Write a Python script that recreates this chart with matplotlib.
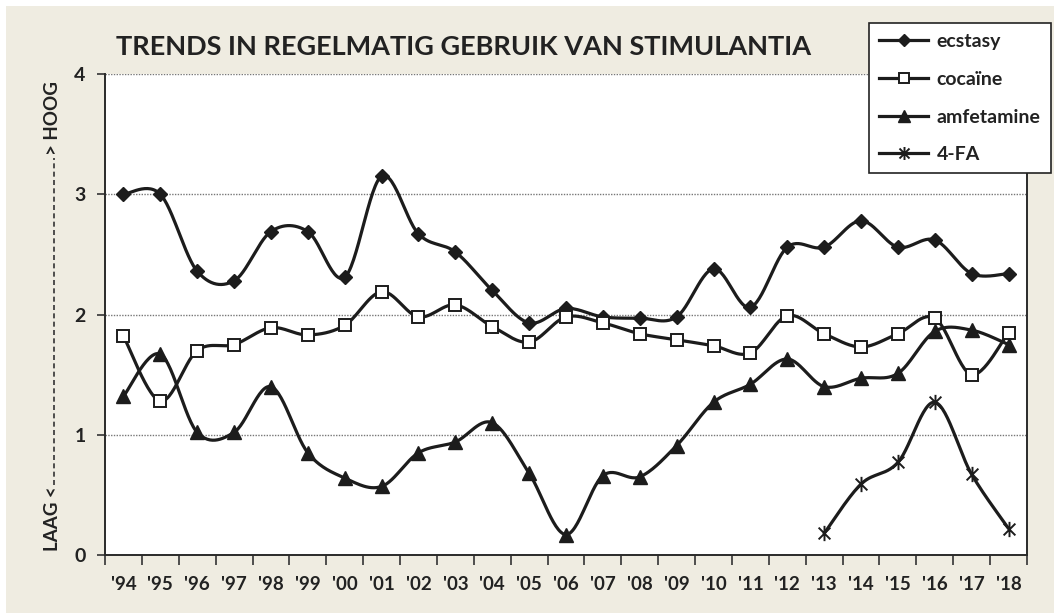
import numpy as np
import matplotlib.pyplot as plt
from matplotlib.path import Path
from matplotlib.lines import Line2D
from matplotlib.patches import Rectangle

plt.rcParams['font.family'] = ['Lato', 'DejaVu Sans']
plt.rcParams['font.weight'] = 'bold'

years = ["'94", "'95", "'96", "'97", "'98", "'99", "'00", "'01", "'02", "'03",
         "'04", "'05", "'06", "'07", "'08", "'09", "'10", "'11", "'12", "'13",
         "'14", "'15", "'16", "'17", "'18"]

ecstasy = [3.00, 3.00, 2.36, 2.28, 2.69, 2.69, 2.31, 3.15, 2.67, 2.52,
           2.20, 1.93, 2.05, 1.98, 1.97, 1.98, 2.38, 2.06, 2.56, 2.56,
           2.78, 2.56, 2.62, 2.34, 2.34]
cocaine = [1.82, 1.28, 1.70, 1.75, 1.89, 1.83, 1.91, 2.19, 1.98, 2.08,
           1.90, 1.77, 1.98, 1.93, 1.84, 1.79, 1.74, 1.68, 1.99, 1.84,
           1.73, 1.84, 1.97, 1.50, 1.85]
amfetamine = [1.32, 1.67, 1.02, 1.02, 1.40, 0.85, 0.64, 0.57, 0.85, 0.94,
              1.10, 0.68, 0.17, 0.66, 0.65, 0.91, 1.27, 1.42, 1.63, 1.40,
              1.47, 1.51, 1.86, 1.87, 1.75]
fa4_start = 19  # 4-FA gemeten vanaf '13
fa4 = [0.18, 0.59, 0.77, 1.27, 0.67, 0.22]


def smooth(x, y, n=30):
    # excel-achtige gladde lijn (catmull-rom / bezier)
    x = np.asarray(x, float)
    y = np.asarray(y, float)
    px = np.concatenate(([x[0]], x, [x[-1]]))
    py = np.concatenate(([y[0]], y, [y[-1]]))
    t = np.linspace(0, 1, n)
    xs, ys = [], []
    for i in range(1, len(px) - 2):
        p0 = np.array([px[i], py[i]])
        p3 = np.array([px[i + 1], py[i + 1]])
        c1 = p0 + (p3 - np.array([px[i - 1], py[i - 1]])) / 6
        c2 = p3 - (np.array([px[i + 2], py[i + 2]]) - p0) / 6
        b = ((1 - t) ** 3)[:, None] * p0 + (3 * (1 - t) ** 2 * t)[:, None] * c1 \
            + (3 * (1 - t) * t ** 2)[:, None] * c2 + (t ** 3)[:, None] * p3
        xs.append(b[:, 0])
        ys.append(b[:, 1])
    return np.concatenate(xs), np.concatenate(ys)


star = Path([(-1, -1), (1, 1), (-1, 1), (1, -1), (0, -1.3), (0, 1.3)],
            [Path.MOVETO, Path.LINETO, Path.MOVETO, Path.LINETO, Path.MOVETO, Path.LINETO])

fig = plt.figure(figsize=(10.6, 6.14), dpi=100)
fig.patch.set_facecolor('white')
fig.patches.append(Rectangle((6 / 1060, 1 / 614), 1048 / 1060, 607 / 614,
                             transform=fig.transFigure, facecolor='#efece1',
                             edgecolor='none', zorder=-10))

ax = fig.add_axes([105 / 1060, 59 / 614, 922 / 1060, 481 / 614])
ax.set_facecolor('white')

lc = '#1c1c1c'
series = [
    ('ecstasy', np.arange(25), ecstasy, dict(marker='D', ms=7.5, mfc=lc, mec=lc)),
    ('cocaïne', np.arange(25), cocaine, dict(marker='s', ms=9, mfc='white', mec=lc, mew=1.4)),
    ('amfetamine', np.arange(25), amfetamine, dict(marker='^', ms=10, mfc=lc, mec=lc)),
    ('4-FA', np.arange(fa4_start, 25), fa4, dict(marker=star, ms=11, mfc='none', mec=lc, mew=1.4)),
]
handles = []
for name, x, y, mk in series:
    sx, sy = smooth(x, y)
    ax.plot(sx, sy, color=lc, lw=2.3, zorder=3, solid_capstyle='round')
    ax.plot(x, y, ls='none', zorder=4, **mk)
    hk = dict(mk)
    hk['ms'] = mk['ms'] * 0.85
    handles.append(Line2D([], [], color=lc, lw=2.3, label=name, **hk))

ax.set_xlim(-0.5, 24.5)
ax.set_ylim(0, 4)
ax.set_xticks(np.arange(25))
ax.set_xticklabels(years)
ax.set_xticks(np.arange(-0.5, 25, 1), minor=True)
ax.tick_params(axis='x', which='major', length=0, pad=15, labelsize=13.5, colors='#222222')
ax.tick_params(axis='x', which='minor', length=7, width=1.2, color='#333333', direction='out')
ax.set_yticks([0, 1, 2, 3, 4])
ax.tick_params(axis='y', length=6, width=1.2, color='#333333', pad=8, labelsize=14,
               colors='#222222')
for lab in ax.get_xticklabels() + ax.get_yticklabels():
    lab.set_fontweight('bold')
ax.yaxis.grid(True, ls=(0, (1, 1)), color='#777777', lw=1)
ax.set_axisbelow(True)
ax.spines['top'].set_visible(False)
for s in ['left', 'bottom', 'right']:
    ax.spines[s].set_color('#2a2a2a')
    ax.spines[s].set_linewidth(1.4)

fig.text(464 / 1060, 1 - 47 / 614, 'TRENDS IN REGELMATIG GEBRUIK VAN STIMULANTIA',
         ha='center', va='center', fontsize=19.5, fontweight='bold', color='#222222')

# y-as label: LAAG <-------> HOOG
yx = 53 / 1060
fig.text(yx, 1 - 551 / 614, 'LAAG <', rotation=90, ha='center', va='bottom',
         fontsize=13.5, fontweight='bold', color='#222222')
fig.text(yx, 1 - 81 / 614, '> HOOG', rotation=90, ha='center', va='top',
         fontsize=13.5, fontweight='bold', color='#222222')
fig.lines.append(Line2D([yx + 0.5 / 1060, yx + 0.5 / 1060], [1 - 485 / 614, 1 - 158 / 614],
                        transform=fig.transFigure, color='#333333', lw=1.2,
                        ls=(0, (3, 2))))

leg = fig.legend(handles=handles, loc='upper left', bbox_to_anchor=(869 / 1060, 1 - 23 / 614),
                 frameon=True, fancybox=False, edgecolor='#222222', facecolor='white',
                 framealpha=1, fontsize=14, handlelength=2.5, labelspacing=1.06,
                 borderpad=0.53, handletextpad=0.45, borderaxespad=0)
leg.get_frame().set_linewidth(1.2)
for t in leg.get_texts():
    t.set_fontweight('bold')
    t.set_color('#222222')

fig.savefig('out.png', dpi=100)
